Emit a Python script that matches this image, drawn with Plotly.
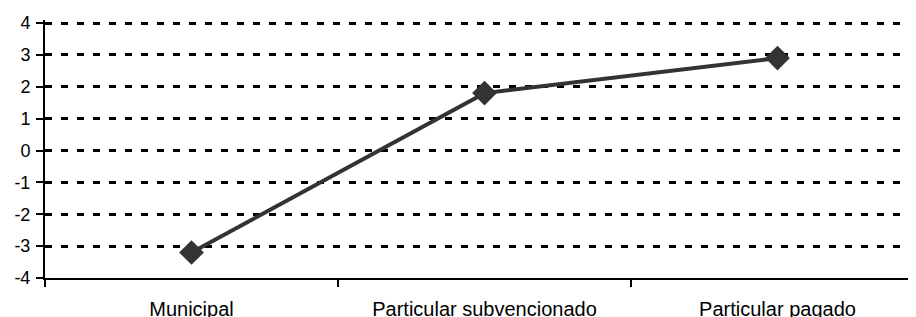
import plotly.graph_objects as go

categories = ["Municipal", "Particular subvencionado", "Particular pagado"]
values = [-3.2, 1.8, 2.9]
y_ticks = [-4, -3, -2, -1, 0, 1, 2, 3, 4]
y_tick_labels = ["-4", "-3", "-2", "-1", "0", "1", "2", "3", "4"]

fig = go.Figure()
fig.add_trace(go.Scatter(
    x=categories, y=values, mode="lines+markers",
    line=dict(color="#333333", width=4),
    marker=dict(symbol="diamond", size=19, color="#333333"),
    showlegend=False, cliponaxis=False,
))

fig.update_layout(
    width=916, height=317,
    margin=dict(l=37, r=0, t=12, b=47),
    paper_bgcolor="white", plot_bgcolor="white",
    font=dict(family="Liberation Sans, Arial, sans-serif", size=18, color="black"),
)
fig.update_xaxes(
    type="category", range=[-0.5, 2.5], automargin=False,
    showline=True, linecolor="black", linewidth=2,
    ticks="outside", ticklen=7, tickwidth=2, tickcolor="black",
    tickson="boundaries", showgrid=False, zeroline=False,
    ticklabelstandoff=12, tickfont=dict(size=20),
)
fig.update_yaxes(
    range=[-4, 4.094], tickvals=y_ticks, ticktext=y_tick_labels, automargin=False,
    showline=True, linecolor="black", linewidth=2,
    ticks="outside", ticklen=7, tickwidth=2, tickcolor="black",
    showgrid=True, gridcolor="black", gridwidth=2.5, griddash="7px,9px",
    zeroline=False, tickfont=dict(size=18), ticklabelstandoff=2,
)
fig.write_html("out.html")
